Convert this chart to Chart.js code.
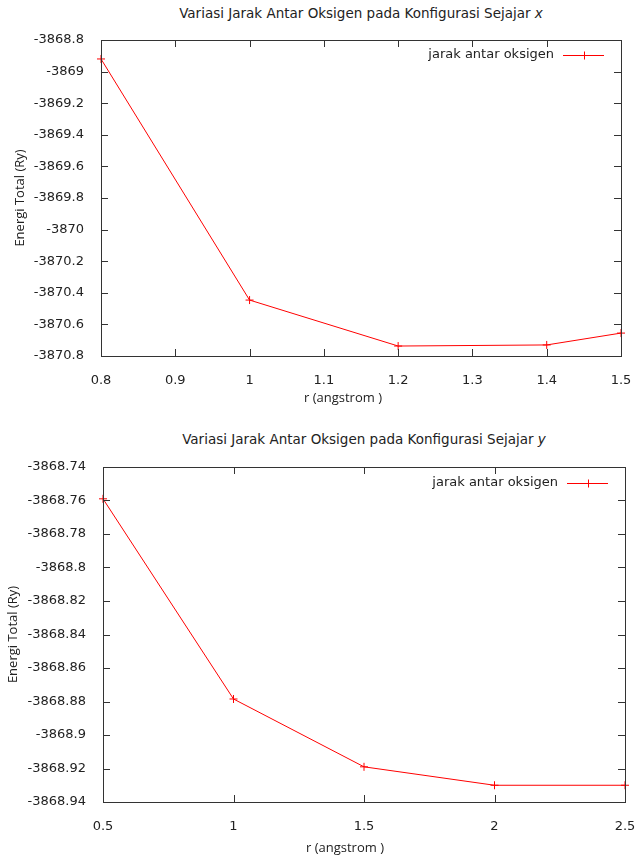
<!DOCTYPE html>
<html>
<head>
<meta charset="utf-8">
<script src="https://cdn.jsdelivr.net/npm/chart.js@4"></script>
<style>
  body { margin: 0; background: #fff; width: 636px; height: 855px; position: relative; overflow: hidden; }
  .panel { position: absolute; left: 0; width: 636px; }
  .panel canvas { position: absolute; left: 0; top: 0; }
  .ttl { position: absolute; text-align: center; font: 13.5px "DejaVu Sans", sans-serif; color: #222; white-space: nowrap; }
  .xlab { position: absolute; text-align: center; font: 13px "Open Sans", sans-serif; color: #222; white-space: nowrap; }
</style>
</head>
<body>

<div class="panel" id="p1" style="top:0;height:410px;">
  <div class="ttl" style="left:101px;width:520px;top:5px;">Variasi Jarak Antar Oksigen pada Konfigurasi Sejajar <i>x</i></div>
  <canvas id="chartX" width="636" height="410"></canvas>
  <div class="xlab" style="left:243px;width:200px;top:388px;">r (angstrom )</div>
</div>

<div class="panel" id="p2" style="top:420px;height:435px;">
  <div class="ttl" style="left:103px;width:522px;top:11px;">Variasi Jarak Antar Oksigen pada Konfigurasi Sejajar <i>y</i></div>
  <canvas id="chartY" width="636" height="435"></canvas>
  <div class="xlab" style="left:245px;width:200px;top:418px;">r (angstrom )</div>
</div>

<script>
// data
const rX = [0.8, 1.0, 1.2, 1.4, 1.5];
const energiX = [-3868.92, -3870.446, -3870.737, -3870.73, -3870.655];

const rY = [0.5, 1.0, 1.5, 2.0, 2.5];
const energiY = [-3868.759, -3868.8785, -3868.919, -3868.930, -3868.930];

const legendLabel = 'jarak antar oksigen';

const TEXT = '#222';
const FRAME = '#333';

// gnuplot look: boxed frame, ticks pointing inward on all four sides, legend in the corner
const gnuFrame = {
    id: 'gnuFrame',
    afterDraw(chart) {
        const ctx = chart.ctx;
        const a = chart.chartArea;
        const xs = chart.scales.x, ys = chart.scales.y;
        const len = 7;
        ctx.save();
        ctx.strokeStyle = FRAME;
        ctx.lineWidth = 1;
        ctx.strokeRect(Math.round(a.left) + 0.5, Math.round(a.top) + 0.5,
                       Math.round(a.right - a.left), Math.round(a.bottom - a.top));
        ctx.beginPath();
        xs.ticks.forEach(t => {
            const px = Math.round(xs.getPixelForValue(t.value)) + 0.5;
            ctx.moveTo(px, a.bottom); ctx.lineTo(px, a.bottom - len);
            ctx.moveTo(px, a.top); ctx.lineTo(px, a.top + len);
        });
        ys.ticks.forEach(t => {
            const py = Math.round(ys.getPixelForValue(t.value)) + 0.5;
            ctx.moveTo(a.left, py); ctx.lineTo(a.left + len, py);
            ctx.moveTo(a.right, py); ctx.lineTo(a.right - len, py);
        });
        ctx.stroke();

        // legend
        const lg = chart.options.plugins.gnuFrame;
        const ly = a.top + lg.dy;
        const lineR = a.right - 17, lineL = lineR - 41;
        ctx.font = '13px "DejaVu Sans", sans-serif';
        ctx.fillStyle = TEXT;
        ctx.textAlign = 'right';
        ctx.textBaseline = 'middle';
        ctx.fillText(legendLabel, lineL - 9, ly);
        ctx.strokeStyle = '#ff0000';
        ctx.beginPath();
        ctx.moveTo(lineL, ly + 0.5); ctx.lineTo(lineR, ly + 0.5);
        const mx = Math.round((lineL + lineR) / 2) + 0.5;
        ctx.moveTo(mx, ly - 3.5); ctx.lineTo(mx, ly + 4.5);
        ctx.moveTo(mx - 4, ly + 0.5); ctx.lineTo(mx + 4, ly + 0.5);
        ctx.stroke();
        ctx.restore();
    }
};

function fmt(v) {
    return String(parseFloat(Number(v).toFixed(4)));
}

function makeChart(id, xs, ys, o) {
    const pts = xs.map((x, i) => ({ x: x, y: ys[i] }));
    return new Chart(document.getElementById(id), {
        type: 'scatter',
        data: {
            datasets: [{
                label: legendLabel,
                data: pts,
                showLine: true,
                borderColor: '#ff0000',
                backgroundColor: '#ff0000',
                borderWidth: 1,
                pointStyle: 'cross',
                pointRadius: 4,
                pointBorderWidth: 1,
                pointBorderColor: '#ff0000',
                clip: false
            }]
        },
        options: {
            responsive: false,
            animation: false,
            events: [],
            layout: { padding: { top: o.top, right: o.right, left: 0, bottom: 0 } },
            plugins: {
                legend: { display: false },
                tooltip: { enabled: false },
                gnuFrame: { dy: o.legendDy }
            },
            scales: {
                x: {
                    type: 'linear',
                    min: o.xMin, max: o.xMax,
                    ticks: {
                        stepSize: o.xStep,
                        padding: 9,
                        color: TEXT,
                        font: { family: '"DejaVu Sans", sans-serif', size: 13 },
                        maxRotation: 0,
                        autoSkip: false,
                        callback: fmt
                    },
                    grid: { display: false },
                    border: { display: false },
                    afterFit: s => { s.height = o.xHeight; s.paddingLeft = 0; s.paddingRight = 0; }
                },
                y: {
                    type: 'linear',
                    min: o.yMin, max: o.yMax,
                    ticks: {
                        stepSize: o.yStep,
                        padding: 9,
                        color: TEXT,
                        font: { family: '"DejaVu Sans", sans-serif', size: 13 },
                        autoSkip: false,
                        callback: fmt
                    },
                    grid: { display: false },
                    border: { display: false },
                    title: {
                        display: true,
                        text: 'Energi Total (Ry)',
                        color: TEXT,
                        font: { family: '"Open Sans", sans-serif', size: 13 },
                        padding: { top: o.yTitlePad, bottom: 0 }
                    },
                    afterFit: s => { s.width = o.yWidth; }
                }
            }
        },
        plugins: [gnuFrame]
    });
}

makeChart('chartX', rX, energiX, {
    top: 40, right: 15, yWidth: 101, xHeight: 54,
    xMin: 0.8, xMax: 1.5, xStep: 0.1,
    yMin: -3870.8, yMax: -3868.8, yStep: 0.2,
    yTitlePad: 12, legendDy: 15
});

makeChart('chartY', rY, energiY, {
    top: 47, right: 11, yWidth: 103, xHeight: 53,
    xMin: 0.5, xMax: 2.5, xStep: 0.5,
    yMin: -3868.94, yMax: -3868.74, yStep: 0.02,
    yTitlePad: 5, legendDy: 16
});
</script>
</body>
</html>
